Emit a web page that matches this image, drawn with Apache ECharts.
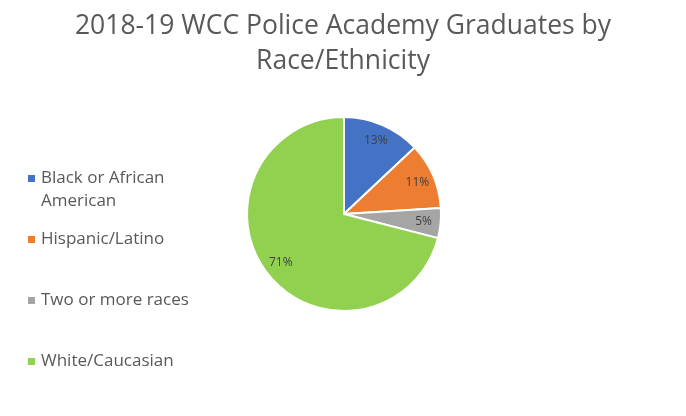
<!DOCTYPE html>
<html>
<head>
<meta charset="utf-8">
<script src="https://cdn.jsdelivr.net/npm/echarts@6/dist/echarts.min.js"></script>
<style>
  html, body { margin: 0; padding: 0; background: #fff; }
  #chart { width: 686px; height: 416px; }
</style>
</head>
<body>
<div id="chart"></div>
<script>
var categories = ['Black or African American', 'Hispanic/Latino', 'Two or more races', 'White/Caucasian'];
var legendNames = ['Black or African\nAmerican', 'Hispanic/Latino', 'Two or more races', 'White/Caucasian'];
var shares = [13, 11, 5, 71];
var colors = ['#4472C4', '#ED7D31', '#A5A5A5', '#92D050'];
var legendTops = [139, 223, 284, 345];

var chart = echarts.init(document.getElementById('chart'));

var pieData = [];
for (var i = 0; i < categories.length; i++) {
  pieData.push({ value: shares[i], name: legendNames[i], itemStyle: { color: colors[i] } });
}

var legends = [];
for (var j = 0; j < legendNames.length; j++) {
  legends.push({
    left: 21,
    top: legendTops[j],
    orient: 'vertical',
    icon: 'rect',
    itemWidth: 9,
    itemHeight: 9,
    itemGap: 0,
    selectedMode: false,
    data: [legendNames[j]],
    // blank first line keeps the marker level with the first text line
    formatter: j === 0 ? function (name) { return '\n' + name; } : '{name}',
    textStyle: {
      fontFamily: 'Open Sans',
      fontSize: 17,
      color: '#595959',
      lineHeight: 23
    }
  });
}

var option = {
  backgroundColor: '#fff',
  animation: false,
  title: {
    text: '2018-19 WCC Police Academy Graduates by\nRace/Ethnicity',
    left: 'center',
    top: 4,
    textStyle: {
      fontFamily: 'Open Sans',
      fontSize: 26.5,
      fontWeight: 'normal',
      color: '#595959',
      lineHeight: 35
    }
  },
  legend: legends,
  series: [{
    name: 'graduates',
    type: 'pie',
    center: [344, 214],
    radius: 97,
    startAngle: 90,
    clockwise: true,
    itemStyle: { borderColor: '#fff', borderWidth: 2 },
    label: { show: false },
    labelLine: { show: false },
    data: pieData
  }, {
    // label-only ring so the percentages sit near the rim
    name: 'labels',
    type: 'pie',
    center: [344, 214],
    radius: 154,
    startAngle: 90,
    clockwise: true,
    silent: true,
    legendHoverLink: false,
    itemStyle: { color: 'rgba(0,0,0,0)' },
    label: {
      show: true,
      position: 'inside',
      formatter: '{d}%',
      fontFamily: 'Open Sans',
      fontSize: 12,
      color: '#404040'
    },
    labelLine: { show: false },
    data: pieData.map(function (d) { return { value: d.value, name: d.name + ' ' }; })
  }]
};

chart.setOption(option);
</script>
</body>
</html>
